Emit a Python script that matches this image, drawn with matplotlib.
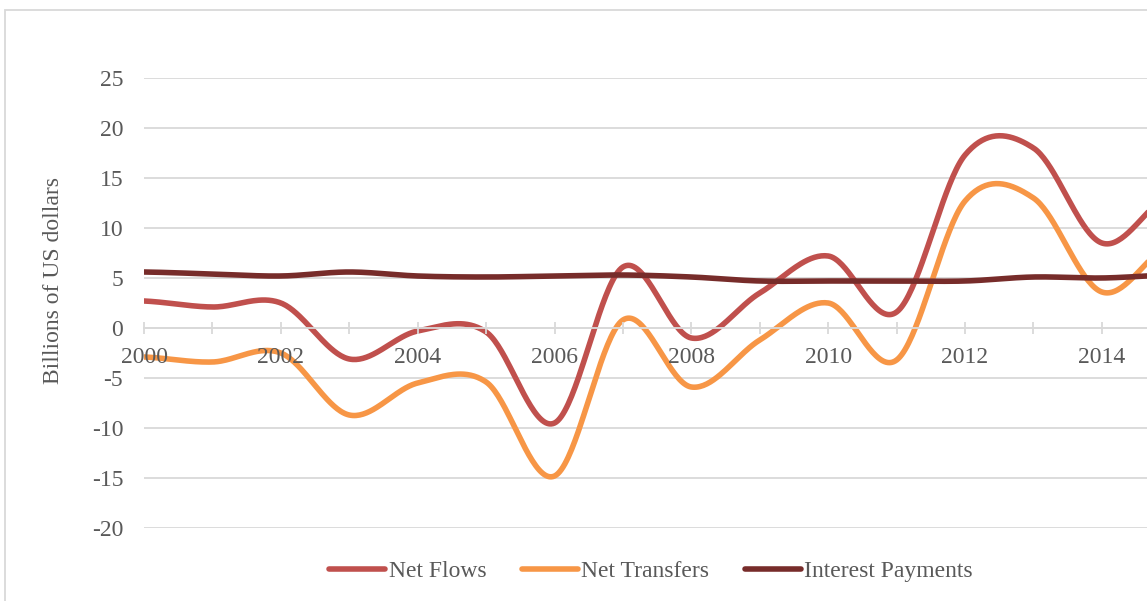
import numpy as np
import matplotlib
matplotlib.use("Agg")
import matplotlib.pyplot as plt
from matplotlib import patches
from matplotlib.ticker import MultipleLocator, FuncFormatter

years = [2000, 2001, 2002, 2003, 2004, 2005, 2006, 2007, 2008,
         2009, 2010, 2011, 2012, 2013, 2014, 2015]
net_flows = [2.7, 2.1, 2.5, -3.1, -0.3, -0.4, -9.5, 6.1, -1.0,
             3.5, 7.2, 1.6, 17.3, 18.0, 8.5, 13.3]
net_transfers = [-2.9, -3.4, -2.5, -8.7, -5.5, -5.4, -14.8, 0.8, -5.9,
                 -1.2, 2.5, -3.2, 12.7, 13.0, 3.6, 8.3]
interest_payments = [5.6, 5.4, 5.2, 5.6, 5.2, 5.1, 5.2, 5.3, 5.1,
                     4.7, 4.7, 4.7, 4.7, 5.1, 5.0, 5.3]
series_names = ["Net Flows", "Net Transfers", "Interest Payments"]
series_colors = ["#C0504D", "#F79646", "#772C2A"]
y_ticks = [-20, -15, -10, -5, 0, 5, 10, 15, 20, 25]


def smooth(x, y, n=40):
    """Catmull-Rom style smoothing through the data points (like Excel's smoothed line)."""
    x = np.asarray(x, float)
    y = np.asarray(y, float)
    m = np.empty_like(y)
    m[1:-1] = (y[2:] - y[:-2]) / 2.0
    m[0] = (y[1] - y[0]) / 2.0
    m[-1] = (y[-1] - y[-2]) / 2.0
    xs, ys = [], []
    for i in range(len(x) - 1):
        t = np.linspace(0, 1, n, endpoint=(i == len(x) - 2))
        h00 = 2 * t**3 - 3 * t**2 + 1
        h10 = t**3 - 2 * t**2 + t
        h01 = -2 * t**3 + 3 * t**2
        h11 = t**3 - t**2
        dx = x[i + 1] - x[i]
        xs.append(x[i] + t * dx)
        ys.append(h00 * y[i] + h10 * m[i] + h01 * y[i + 1] + h11 * m[i + 1])
    return np.concatenate(xs), np.concatenate(ys)


plt.rcParams["font.family"] = ["Liberation Serif", "DejaVu Serif"]
text_color = "#595959"
grid_color = "#D9D9D9"
fs = 17

fig = plt.figure(figsize=(11.47, 6.01), dpi=100)
ax = fig.add_axes([144 / 1147, 73 / 601, 1003 / 1147, 450 / 601])

for vals, name, col in zip([net_flows, net_transfers, interest_payments],
                           series_names, series_colors):
    sx, sy = smooth(years, vals)
    ax.plot(sx, sy, color=col, lw=4.0, label=name,
            solid_capstyle="round", zorder=2)

ax.set_xlim(2000, 2000 + 1003 / 68.42)
ax.set_ylim(-20, 25)
ax.set_yticks(y_ticks)
ax.yaxis.set_major_formatter(FuncFormatter(lambda v, p: f"{int(v)}"))
ax.grid(axis="y", color=grid_color, lw=1.3)
ax.yaxis.set_zorder(0.5)
ax.xaxis.set_zorder(2.5)

ax.xaxis.set_major_locator(MultipleLocator(2))
ax.xaxis.set_minor_locator(MultipleLocator(1))
ax.xaxis.set_major_formatter(FuncFormatter(lambda v, p: f"{int(round(v))}"))
ax.tick_params(axis="x", which="both", direction="inout", length=9,
               width=1.3, color=grid_color, labelcolor=text_color,
               labelsize=fs, pad=9.5)
ax.tick_params(axis="y", length=0, pad=15, labelcolor=text_color, labelsize=fs)

for s in ["top", "right", "left"]:
    ax.spines[s].set_visible(False)
ax.spines["bottom"].set_position(("data", 0))
ax.spines["bottom"].set_color(grid_color)
ax.spines["bottom"].set_linewidth(1.3)

fig.text(54 / 1147, 1 - 280 / 601, "Billions of US dollars", rotation=90,
         ha="center", va="center", color=text_color, fontsize=fs)

leg = ax.legend(loc="center", bbox_to_anchor=(651 / 1147, 1 - 571 / 601),
                bbox_transform=fig.transFigure, ncol=3, frameon=False,
                handlelength=2.37, handletextpad=0.15, columnspacing=1.5,
                fontsize=fs)
for t in leg.get_texts():
    t.set_color(text_color)

fig.add_artist(patches.Rectangle((5 / 1147, -0.1), 2.0, (1 - 10 / 601) + 0.1,
                                 transform=fig.transFigure, fill=False,
                                 edgecolor=grid_color, lw=1.3))

fig.savefig("out.png", dpi=100)
